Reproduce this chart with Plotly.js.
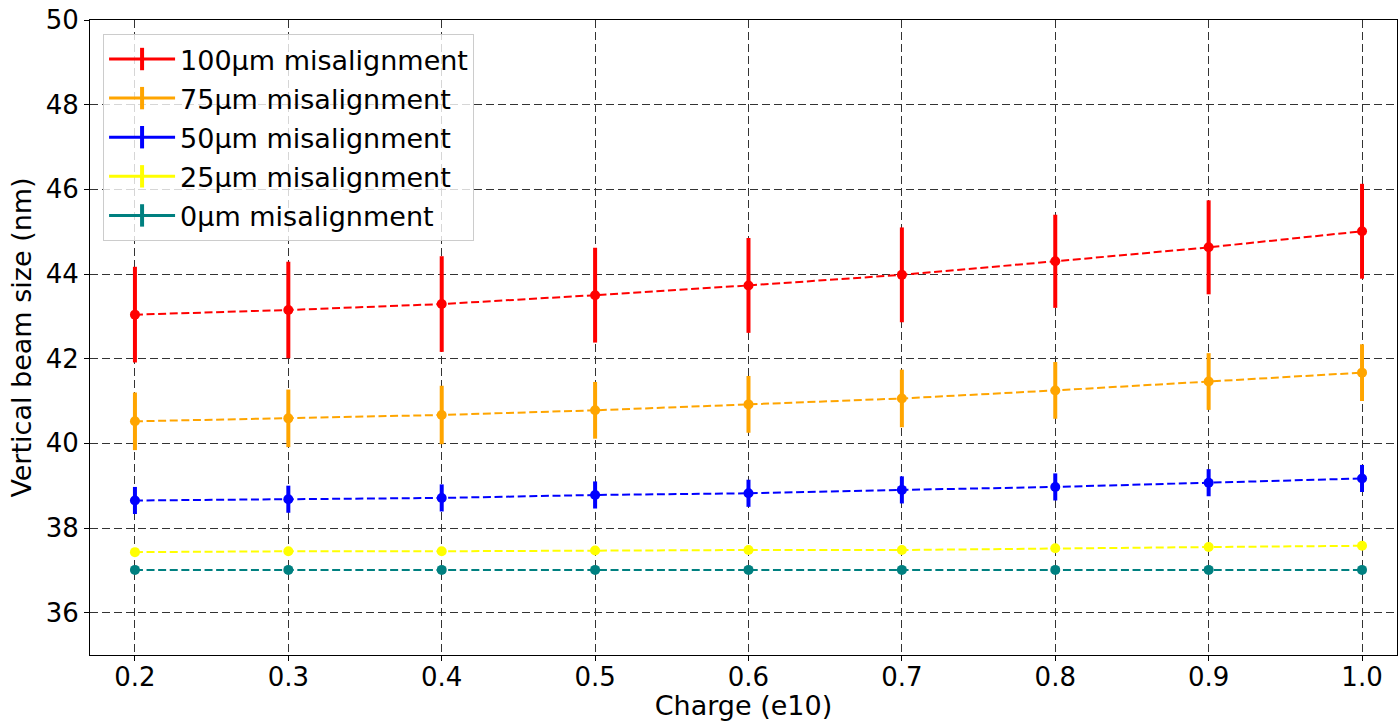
<!DOCTYPE html>
<html>
<head>
<meta charset="utf-8">
<script src="https://cdn.plot.ly/plotly-3.0.1.min.js"></script>
<style>html,body{margin:0;padding:0;background:#fff;}#chart{width:1398px;height:721px;}</style>
</head>
<body>
<div id="chart"></div>
<script>
const charge = [0.2, 0.3, 0.4, 0.5, 0.6, 0.7, 0.8, 0.9, 1.0];

const size100 = [43.04, 43.15, 43.29, 43.50, 43.73, 43.98, 44.30, 44.63, 45.01];
const err100  = [1.13, 1.14, 1.13, 1.12, 1.12, 1.12, 1.10, 1.11, 1.12];

const size75 = [40.52, 40.59, 40.67, 40.78, 40.92, 41.06, 41.25, 41.46, 41.67];
const err75  = [0.68, 0.68, 0.69, 0.67, 0.67, 0.68, 0.67, 0.67, 0.67];

const size50 = [38.65, 38.68, 38.71, 38.78, 38.82, 38.90, 38.97, 39.07, 39.17];
const err50  = [0.32, 0.32, 0.32, 0.32, 0.32, 0.32, 0.32, 0.32, 0.32];

const size25 = [37.43, 37.45, 37.45, 37.47, 37.48, 37.48, 37.52, 37.55, 37.58];
const err25  = [0.06, 0.06, 0.06, 0.06, 0.06, 0.06, 0.06, 0.06, 0.06];

const size0 = [37.01, 37.01, 37.01, 37.01, 37.01, 37.01, 37.01, 37.01, 37.01];
const err0  = [0.01, 0.01, 0.01, 0.01, 0.01, 0.01, 0.01, 0.01, 0.01];

const seriesNames = ['100μm misalignment', '75μm misalignment', '50μm misalignment', '25μm misalignment', '0μm misalignment'];
const seriesColors = ['#ff0000', '#ffa500', '#0000ff', '#ffff00', '#008080'];
const seriesValues = [size100, size75, size50, size25, size0];
const seriesErrors = [err100, err75, err50, err25, err0];

const traces = [];
seriesValues.forEach((vals, i) => {
  traces.push({
    x: charge, y: vals, type: 'scatter', mode: 'lines+markers',
    name: seriesNames[i], showlegend: false, legendgroup: 'g' + i,
    line: {color: seriesColors[i], dash: '8px,3.6px', width: 2},
    marker: {color: seriesColors[i], size: 10},
    error_y: {type: 'data', array: seriesErrors[i], visible: true, color: seriesColors[i], thickness: 4, width: 0}
  });
});
// legend entries (cross icons like error-bar markers)
seriesValues.forEach((vals, i) => {
  traces.push({
    x: [null], y: [null], type: 'scatter', mode: 'lines+markers',
    name: seriesNames[i], legendgroup: 'g' + i,
    line: {color: seriesColors[i], width: 3},
    marker: {color: seriesColors[i], symbol: 'line-ns', size: 16, line: {color: seriesColors[i], width: 4}}
  });
});

const font = {family: 'DejaVu Sans, sans-serif', color: '#000'};
const layout = {
  width: 1398, height: 721,
  margin: {l: 90, r: 1, t: 20, b: 66},
  paper_bgcolor: '#fff', plot_bgcolor: '#fff',
  font: Object.assign({size: 26}, font),
  showlegend: true,
  legend: {
    x: 0.01, y: 0.978, xanchor: 'left', yanchor: 'top',
    bgcolor: 'rgba(255,255,255,0.8)', bordercolor: '#cccccc', borderwidth: 1,
    font: Object.assign({size: 27}, font),
    tracegroupgap: 1, itemwidth: 66
  },
  xaxis: {
    range: [0.1707, 1.0228], tickvals: charge, tickformat: '.1f',
    showline: true, linecolor: '#000', linewidth: 1, mirror: true,
    ticks: 'outside', ticklen: 5, tickcolor: '#000',
    showgrid: true, gridcolor: '#333', griddash: '8px,4px', gridwidth: 1,
    zeroline: false, ticklabelstandoff: -6,
    tickfont: Object.assign({size: 26}, font),
    title: {text: 'Charge (e10)', font: Object.assign({size: 27}, font), standoff: 2}
  },
  yaxis: {
    range: [35, 50], tickvals: [36, 38, 40, 42, 44, 46, 48, 50],
    showline: true, linecolor: '#000', linewidth: 1, mirror: true,
    ticks: 'outside', ticklen: 5, tickcolor: '#000',
    showgrid: true, gridcolor: '#333', griddash: '8px,4px', gridwidth: 1,
    zeroline: false,
    tickfont: Object.assign({size: 26}, font),
    title: {text: 'Vertical beam size (nm)', font: Object.assign({size: 27}, font), standoff: 6}
  }
};

Plotly.newPlot('chart', traces, layout, {displayModeBar: false, staticPlot: true});
</script>
</body>
</html>
